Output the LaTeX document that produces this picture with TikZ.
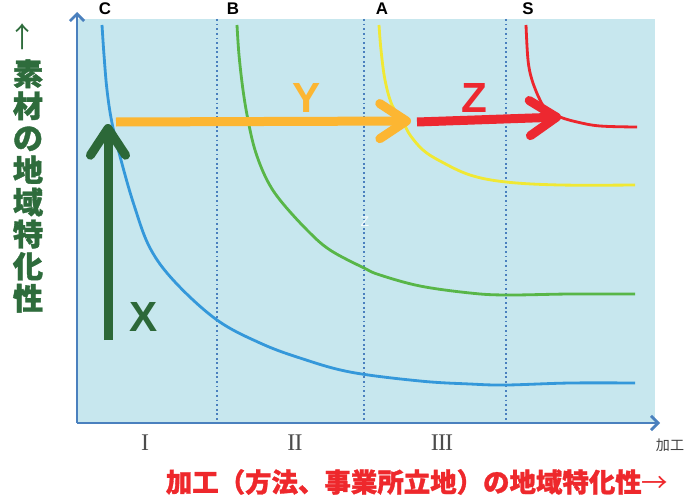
\documentclass[tikz,border=0pt]{standalone}
\usepackage{fontspec}
\setmainfont{Liberation Sans}
\newfontfamily\jpfont{Noto Sans CJK JP}[BoldFeatures={FakeBold=1.2}]
\newfontfamily\romfont{Liberation Serif}
\usetikzlibrary{arrows.meta}

\definecolor{bgblue}{RGB}{199,231,238}
\definecolor{axisblue}{RGB}{74,128,190}
\definecolor{curveC}{RGB}{52,152,218}
\definecolor{curveB}{RGB}{88,182,72}
\definecolor{curveA}{RGB}{240,232,52}
\definecolor{curveS}{RGB}{236,38,44}
\definecolor{arrX}{RGB}{44,104,56}
\definecolor{arrY}{RGB}{252,182,50}
\definecolor{arrZ}{RGB}{237,40,48}
\definecolor{lblgreen}{RGB}{46,108,60}
\definecolor{lblred}{RGB}{238,40,44}

\begin{document}
\begin{tikzpicture}[x=0.025cm, y=-0.025cm,
  axis/.style={axisblue, line width=2pt,
               -{Straight Barb[length=5pt, width=10pt]}},
  divider/.style={axisblue, line width=1.3pt, dotted},
  curve/.style={line width=2pt},
  bigarr/.style={line width=6.4pt,
                 -{Straight Barb[length=19pt, width=25pt, round]}},
  top/.style={font=\bfseries\fontsize{12}{14}\selectfont},
  big/.style={font=\bfseries\fontsize{30}{32}\selectfont},
  roman/.style={font=\romfont\fontsize{17}{19}\selectfont, text=black!70},
]

%% ---- Divider columns
\def\da{217} % I / II
\def\db{364} % II / III
\def\dc{506} % III / right

\useasboundingbox (0,0) rectangle (694,499);

%% ---- Plot area
\fill[bgblue] (77,19) rectangle (655,423);
\foreach \d in {\da,\db,\dc}
  \draw[divider] (\d,19) -- (\d,423);

\coordinate (O)    at (77,423);
\coordinate (ytop) at (77,12);
\coordinate (xend) at (660,423);
\draw[axis] (O) -- (ytop);
\draw[axis] (O) -- (xend);

%% ---- Curves C, B, A, S
\draw[curve, curveC] plot[smooth, tension=0.6] coordinates {
  (102,25) (104,55) (107,90) (112,123) (121,160) (134,205) (150,248)
  (175,282) (217,320) (260,343) (300,358) (350,372) (420,381) (470,384)
  (506,385) (570,383) (635,383)};
\draw[curve, curveB] plot[smooth, tension=0.6] coordinates {
  (237,25) (239,55) (243,90) (248,120) (255,150) (266,178) (280,200)
  (307,230) (330,250) (364,268) (380,275) (420,286) (470,293) (506,295)
  (570,294) (635,294)};
\draw[curve, curveA] plot[smooth, tension=0.6] coordinates {
  (379,25) (381,50) (385,80) (392,105) (403,122) (410,135) (423,150)
  (440,161) (470,175) (506,182) (560,185) (635,185)};
\draw[curve, curveS] plot[smooth, tension=0.6] coordinates {
  (526,25) (528,60) (532,80) (540,100) (547,110) (560,117) (577,122)
  (600,126) (637,127)};

%% ---- Curve names
\node[top] (lC) at (105,9) {C};
\node[top] (lB) at (233,9) {B};
\node[top] (lA) at (382,9) {A};
\node[top] (lS) at (528,9) {S};

%% ---- Shift arrows X, Y, Z
\coordinate (xs) at (108,340);
\coordinate (xe) at (108,124);
\coordinate (ys) at (116,122);
\coordinate (ye) at (411,121);
\coordinate (zs) at (417,122);
\coordinate (ze) at (561,117);
\draw[bigarr, arrX] (xs) -- (xe);
\draw[bigarr, arrY] (ys) -- (ye);
\draw[bigarr, arrZ] (zs) -- (ze);

\node[big, arrX] (lX) at (144,317) {X};
\node[big, arrY] (lY) at (307,98)  {Y};
\node[big, arrZ] (lZ) at (474,98)  {Z};
\node[font=\fontsize{10}{10}\selectfont, white, opacity=0.8] (lz) at (365,222) {Z};

%% ---- Axis labels
\node[lblgreen, font=\jpfont\fontsize{20}{22}\selectfont] (yarr) at (23,37) {↑};
\node[lblgreen, align=center, font=\jpfont\bfseries\fontsize{21.5}{22.8}\selectfont]
  (ylbl) at (28,186) {素\\材\\の\\地\\域\\特\\化\\性};

\node[roman] (r1) at (145,443) {I};
\node[roman] (r2) at (295,443) {I\kern-0.6ptI};
\node[roman] (r3) at (442,443) {I\kern-0.6ptI\kern-0.6ptI};
\node[font=\jpfont\fontsize{10}{12}\selectfont, text=black!75] (lkako) at (670,445) {加工};

\node[lblred, font=\jpfont\bfseries\fontsize{18.8}{20}\selectfont] (xlbl) at (417,482)
  {加工（方法、事業所立地）の地域特化性{\mdseries →}};

\end{tikzpicture}
\end{document}
